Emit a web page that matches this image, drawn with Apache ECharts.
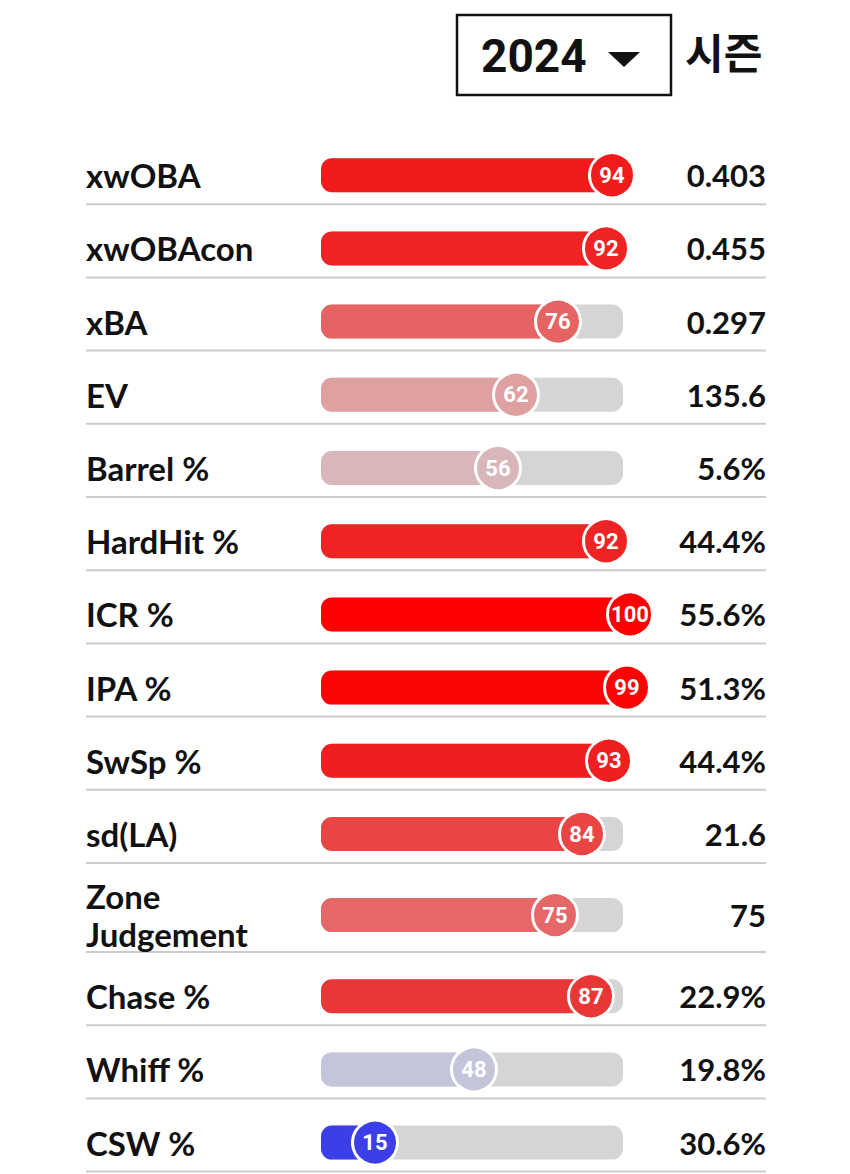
<!DOCTYPE html>
<html><head><meta charset="utf-8">
<script src="https://cdn.jsdelivr.net/npm/echarts@6/dist/echarts.min.js"></script>
<style>html,body{margin:0;padding:0;background:#fff}#c{width:850px;height:1174px}</style>
</head><body><div id="c"></div>
<script>
// ---- data ----
const metrics = ['xwOBA','xwOBAcon','xBA','EV','Barrel %','HardHit %','ICR %','IPA %','SwSp %','sd(LA)','Zone\nJudgement','Chase %','Whiff %','CSW %'];
const percentiles = [94,92,76,62,56,92,100,99,93,84,75,87,48,15];
const values = ['0.403','0.455','0.297','135.6','5.6%','44.4%','55.6%','51.3%','44.4%','21.6','75','22.9%','19.8%','30.6%'];
const season = '2024';
const seasonLabel = '시즌';

// ---- layout / style ----
const ROW_TOP0 = 131, ROW_H = 73.2, ROW_H_TALL = 89;
const BAR_H = 34;
const TRACK_L = 321, TRACK_W = 302;
const X_MIN = -3, X_MAX = 97.67;
const LABEL_X = 86, VALUE_X = 766;
const colorStops = [[0,'#2d2df0'],[15,'#3c3fe8'],[50,'#cccdd8'],[56,'#d9b6b9'],[62,'#dfa0a2'],[75,'#e66767'],[84,'#ea4545'],[88,'#e93232'],[93,'#ef1f1f'],[100,'#ff0000']];
function hex(c){return [1,3,5].map(i=>parseInt(c.substr(i,2),16));}
function colorFor(p){
  for(let k=1;k<colorStops.length;k++){
    const [p1,c1]=colorStops[k-1],[p2,c2]=colorStops[k];
    if(p<=p2){const t=(p-p1)/(p2-p1);const a=hex(c1),b=hex(c2);
      return 'rgb('+a.map((v,j)=>Math.round(v+(b[j]-v)*t)).join(',')+')';}
  }
  return colorStops[colorStops.length-1][1];
}

let yCursor = ROW_TOP0;
const rows = metrics.map(m=>{const h = m.includes('\n')?ROW_H_TALL:ROW_H; const top=yCursor; yCursor+=h; return {top,h,center:top+h/2+7.6};});

const grid=[],xAxis=[],yAxis=[],series=[],graphic=[];
rows.forEach((r,i)=>{
  grid.push({left:TRACK_L,width:TRACK_W,top:r.center-BAR_H/2,height:BAR_H,containLabel:false});
  xAxis.push({type:'value',gridIndex:i,min:X_MIN,max:X_MAX,show:false});
  yAxis.push({type:'category',gridIndex:i,data:[metrics[i]],position:'left',
    axisLine:{show:false},axisTick:{show:false},splitLine:{show:false},
    axisLabel:{align:'left',margin:TRACK_L-LABEL_X,fontSize:33,fontWeight:'bold',color:'#111',fontFamily:'Lato',lineHeight:38}});
  yAxis.push({type:'category',gridIndex:i,data:[values[i]],position:'right',
    axisLine:{show:false},axisTick:{show:false},splitLine:{show:false},
    axisLabel:{align:'right',margin:VALUE_X-(TRACK_L+TRACK_W),fontSize:31,fontWeight:'bold',color:'#111',fontFamily:'Lato'}});
  series.push({type:'custom',xAxisIndex:i,yAxisIndex:2*i,data:[[percentiles[i],0]],z:1,
    renderItem:(params,api)=>{
      const cs=params.coordSys; const p=api.value(0);
      const end=api.coord([p,0])[0];
      return {type:'group',children:[
        {type:'rect',shape:{x:cs.x,y:cs.y,width:cs.width,height:cs.height,r:11},style:{fill:'#d5d5d5'}},
        {type:'rect',shape:{x:cs.x,y:cs.y,width:end-cs.x,height:cs.height,r:11},style:{fill:colorFor(p)}}
      ]};
    }});
  series.push({type:'scatter',xAxisIndex:i,yAxisIndex:2*i,data:[[percentiles[i],0]],z:3,clip:false,
    symbol:'circle',symbolSize:45,
    itemStyle:{color:(pr)=>colorFor(pr.value[0]),borderColor:'#fff',borderWidth:3,opacity:1},
    label:{show:true,position:'inside',formatter:(pr)=>String(pr.value[0]),color:'#fff',fontSize:22,fontWeight:'bold',fontFamily:'Roboto'},
    emphasis:{disabled:true}});
  graphic.push({type:'line',shape:{x1:LABEL_X,y1:r.top+r.h,x2:VALUE_X,y2:r.top+r.h},style:{stroke:'#cbcbcb',lineWidth:2},silent:true});
});

// header (season selector)
graphic.push({type:'rect',shape:{x:457,y:15,width:214,height:80},style:{fill:'none',stroke:'#111',lineWidth:2.5}});
graphic.push({type:'text',x:481,y:56,style:{text:season,fontSize:46,fontWeight:'bold',fontFamily:'Roboto',fill:'#111',verticalAlign:'middle'}});
graphic.push({type:'polygon',shape:{points:[[608,52],[640,52],[624,67]]},style:{fill:'#111'}});
graphic.push({type:'text',x:685,y:50,style:{text:seasonLabel,fontSize:42,fontWeight:'bold',fontFamily:'Noto Sans CJK KR',fill:'#111',verticalAlign:'middle'}});

const chart = echarts.init(document.getElementById('c'),null,{renderer:'svg'});
chart.setOption({animation:false,backgroundColor:'#fff',grid,xAxis,yAxis,series,graphic});
</script>
</body></html>
